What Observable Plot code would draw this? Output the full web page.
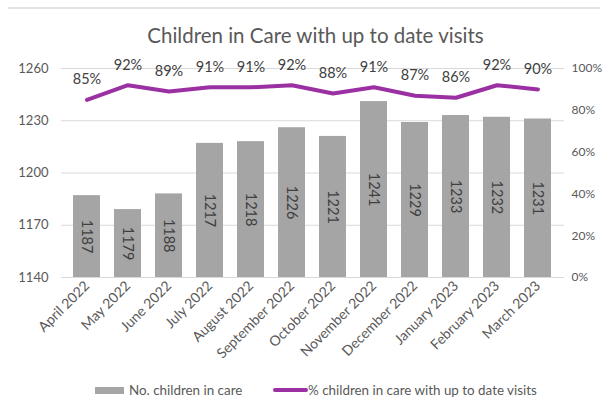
<!DOCTYPE html>
<html>
<head>
<meta charset="utf-8">
<script src="https://cdn.jsdelivr.net/npm/d3@7"></script>
<script src="https://cdn.jsdelivr.net/npm/@observablehq/plot@0.6"></script>
<style>
  body { margin: 0; background: #fff; font-family: Lato, "Open Sans", sans-serif; }
  #wrap { position: relative; width: 603px; height: 403px; overflow: hidden; }
  #topline { position: absolute; left: 8px; right: 3px; top: 7px; height: 0; border-top: 2px solid #e3e3e3; }
  #title { position: absolute; left: 0; top: 21px; width: 631px; text-align: center; font-size: 20.5px; color: #595959; line-height: 28px; }
  #chart { position: absolute; left: 0; top: 50px; }
  #legend { position: absolute; left: 0; top: 380px; width: 603px; height: 20px; font-size: 13.4px; color: #595959; }
  .sw { position: absolute; }
  .lt { position: absolute; top: 0px; line-height: 20px; }
</style>
</head>
<body>
<div id="wrap">
  <div id="topline"></div>
  <div id="title">Children in Care with up to date visits</div>
  <div id="chart"></div>
  <div id="legend">
    <div class="sw" style="left:95px;top:7px;width:29px;height:7px;background:#a5a5a5"></div>
    <div class="lt" style="left:129px">No. children in care</div>
    <div class="sw" style="left:273px;top:8px;width:35px;height:4px;background:#9b30a3;border-radius:2px"></div>
    <div class="lt" style="left:308px">% children in care with up to date visits</div>
  </div>
</div>
<script>
const months = ["April 2022","May 2022","June 2022","July 2022","August 2022","September 2022","October 2022","November 2022","December 2022","January 2023","February 2023","March 2023"];
const counts = [1187,1179,1188,1217,1218,1226,1221,1241,1229,1233,1232,1231];
const pcts = [85,92,89,91,91,92,88,91,87,86,92,90];
const leftTicks = [1140,1170,1200,1230,1260];
const rightTicks = [0,20,40,60,80,100];

const yMin = 1140, yMax = 1260;
const pctToY = p => yMin + p / 100 * (yMax - yMin);

const data = months.map((m, i) => ({month: m, count: counts[i], pct: pcts[i]}));

const chart = Plot.plot({
  width: 603,
  height: 320,
  marginLeft: 61,
  marginRight: 39,
  marginTop: 18,
  marginBottom: 93,
  style: {fontFamily: "Lato, 'Open Sans', sans-serif", color: "#595959", background: "transparent"},
  x: {type: "band", domain: months, paddingInner: 0.33, paddingOuter: 0.165, label: null},
  y: {domain: [yMin, yMax], label: null},
  marks: [
    Plot.gridY(leftTicks, {stroke: "#d9d9d9", strokeOpacity: 1, strokeWidth: 1}),
    Plot.barY(data, {x: "month", y1: yMin, y2: "count", fill: "#a5a5a5"}),
    Plot.text(data, {x: "month", y: d => (yMin + d.count) / 2, text: d => String(d.count), rotate: 90, fontSize: 14.5, fill: "#404040"}),
    Plot.line(data, {x: "month", y: d => pctToY(d.pct), stroke: "#9b30a3", strokeWidth: 4, strokeLinejoin: "round", strokeLinecap: "round"}),
    Plot.text(data, {x: "month", y: d => pctToY(d.pct), text: d => d.pct + "%", dy: -20, fontSize: 14.5, fill: "#404040"}),
    Plot.axisY(leftTicks, {anchor: "left", tickSize: 0, tickPadding: 13, fontSize: 13, fill: "#595959", label: null, tickFormat: d => String(d)}),
    Plot.axisY(rightTicks.map(pctToY), {anchor: "right", tickSize: 0, tickPadding: 7, fontSize: 12, fill: "#595959", label: null, tickFormat: d => Math.round((d - yMin) / (yMax - yMin) * 100) + "%"}),
    Plot.axisX({tickSize: 0, tickPadding: 6, tickRotate: -45, fontSize: 14, fill: "#595959", label: null})
  ]
});
document.getElementById("chart").appendChild(chart);
</script>
</body>
</html>
